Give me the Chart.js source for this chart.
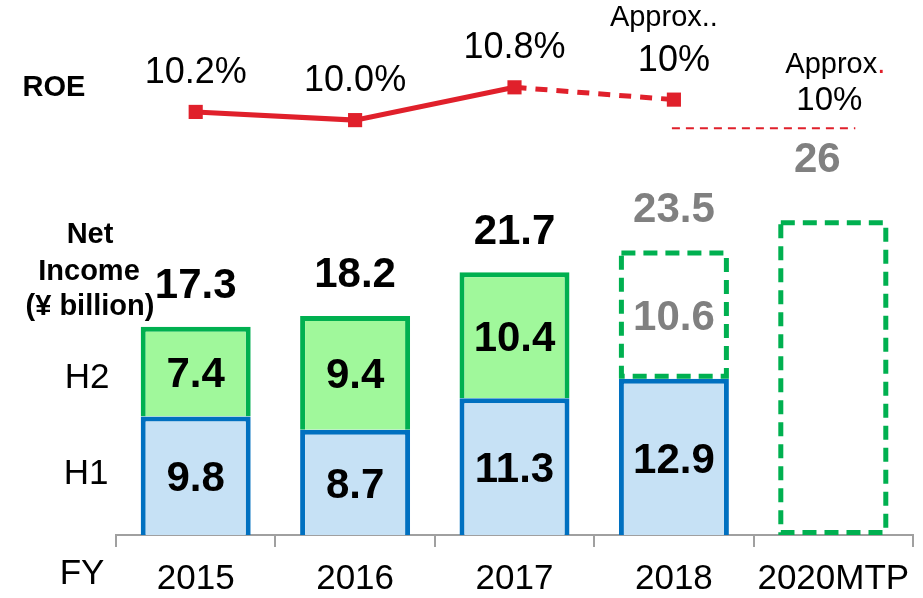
<!DOCTYPE html>
<html>
<head>
<meta charset="utf-8">
<script src="https://cdn.jsdelivr.net/npm/chart.js@4"></script>
<style>
  body { margin: 0; background: #fff; }
  canvas { display: block; }
</style>
</head>
<body>
<canvas id="chart" width="923" height="598"></canvas>
<script>
// data
const years = ["2015", "2016", "2017", "2018", "2020MTP"];
const h1 = [9.8, 8.7, 11.3, 12.9, null];
const h2 = [7.4, 9.4, 10.4, 10.6, null];
const totals = [17.3, 18.2, 21.7, 23.5, 26];
const mtpTarget = [null, null, null, null, 26];
const roe = [10.2, 10.0, 10.8, 10.5, null];
const roeLabels = ["10.2%", "10.0%", "10.8%", "10%", "10%"];
const roeTarget = 9.8;

const FONT = "'Liberation Sans', Arial, sans-serif";
const RED = "#E0202B";
const GREEN = "#00B050";
const GREY_TXT = "#808080";

// dashed outline for the forecast bars + all the text
const overlay = {
  id: "overlay",
  afterDatasetsDraw(chart) {
    const ctx = chart.ctx;
    const x = chart.scales.x;
    const yR = chart.scales.yROE;

    // dashed green boxes (2018 H2 forecast, 2020 MTP)
    ctx.save();
    ctx.strokeStyle = GREEN;
    ctx.lineWidth = 5;
    ctx.setLineDash([14, 8]);
    [[1, 3], [2, 4]].forEach(([ds, i]) => {
      const el = chart.getDatasetMeta(ds).data[i];
      if (!el) return;
      const w = el.width;
      ctx.strokeRect(el.x - w / 2 + 2.5, el.y + 2.5, w - 5, el.base - el.y - 5);
    });
    ctx.restore();

    // ROE target dashed line for 2020
    ctx.save();
    ctx.strokeStyle = RED;
    ctx.lineWidth = 2;
    ctx.setLineDash([8, 6]);
    const ty = yR.getPixelForValue(roeTarget);
    ctx.beginPath();
    ctx.moveTo(x.getPixelForValue(3) - 2, ty);
    ctx.lineTo(x.getPixelForValue(4) + 22, ty);
    ctx.stroke();
    ctx.restore();

    ctx.save();
    ctx.textAlign = "center";
    ctx.textBaseline = "middle";

    // segment values
    ctx.font = "bold 42px " + FONT;
    [0, 1].forEach(ds => {
      chart.getDatasetMeta(ds).data.forEach((el, i) => {
        const v = chart.data.datasets[ds].data[i];
        if (v == null) return;
        ctx.fillStyle = (ds === 1 && i === 3) ? GREY_TXT : "#000";
        ctx.fillText(v.toFixed(1), el.x, (el.y + el.base) / 2 + 4);
      });
    });

    // totals
    const top = chart.getDatasetMeta(1).data;
    totals.forEach((t, i) => {
      ctx.fillStyle = i >= 3 ? GREY_TXT : "#000";
      if (i < 4) {
        ctx.fillText(t.toFixed(1), top[i].x, top[i].y - 40);
      } else {
        const el = chart.getDatasetMeta(2).data[i];
        ctx.fillText(String(t), el.x - 16, el.y - 60);
      }
    });

    // ROE labels
    ctx.font = "36px " + FONT;
    ctx.fillStyle = "#000";
    const pts = chart.getDatasetMeta(3).data;
    roe.forEach((v, i) => {
      if (v == null) return;
      ctx.fillText(roeLabels[i], pts[i].x, pts[i].y - 39);
    });
    ctx.font = "29px " + FONT;
    ctx.fillText("Approx..", pts[3].x - 10, pts[3].y - 82);
    const mx = x.getPixelForValue(4);
    ctx.font = "33px " + FONT;
    ctx.fillText(roeLabels[4], mx - 4, ty - 27);
    ctx.font = "29px " + FONT;
    ctx.textAlign = "left";
    const aw = ctx.measureText("Approx").width;
    const dw = ctx.measureText(".").width;
    const ax = mx + 2 - (aw + dw) / 2;
    ctx.fillText("Approx", ax, ty - 63);
    ctx.fillStyle = RED;
    ctx.fillText(".", ax + aw, ty - 63);

    // side labels
    ctx.textAlign = "center";
    ctx.fillStyle = "#000";
    ctx.font = "bold 29px " + FONT;
    ctx.fillText("ROE", 54, 88);
    ctx.fillText("Net", 90, 235);
    ctx.fillText("Income", 89, 272);
    ctx.fillText("(¥ billion)", 90, 307);
    ctx.font = "35px " + FONT;
    ctx.fillText("H2", 87, 378);
    ctx.fillText("H1", 86, 474);
    ctx.fillText("FY", 82, 574);
    ctx.restore();
  }
};

new Chart(document.getElementById("chart"), {
  data: {
    labels: years,
    datasets: [
      {
        type: "bar", label: "H1", data: h1, stack: "ni", yAxisID: "y",
        backgroundColor: "#C6E1F5", borderColor: "#0070C0", borderWidth: 5,
        barPercentage: 0.69, categoryPercentage: 1, order: 2
      },
      {
        type: "bar", label: "H2", data: h2, stack: "ni", yAxisID: "y",
        backgroundColor: ["#A0F89B", "#A0F89B", "#A0F89B", "rgba(255,255,255,0)", "#fff"],
        borderColor: [GREEN, GREEN, GREEN, "rgba(0,0,0,0)", GREEN],
        borderWidth: [5, 5, 5, 0, 5],
        barPercentage: 0.69, categoryPercentage: 1, order: 2
      },
      {
        type: "bar", label: "MTP", data: mtpTarget, stack: "ni", yAxisID: "y",
        backgroundColor: "rgba(255,255,255,0)", borderWidth: 0,
        barPercentage: 0.69, categoryPercentage: 1, order: 2
      },
      {
        type: "line", label: "ROE", data: roe, yAxisID: "yROE",
        borderColor: RED, backgroundColor: RED, borderWidth: 5,
        pointStyle: "rect", pointRadius: 10, pointBorderWidth: 0,
        segment: { borderDash: c => c.p0DataIndex === 2 ? [12, 9] : undefined },
        order: 1
      }
    ]
  },
  options: {
    responsive: false,
    animation: false,
    events: [],
    layout: { autoPadding: false, padding: { left: 116, right: 10, top: 0, bottom: 0 } },
    plugins: { legend: { display: false }, tooltip: { enabled: false } },
    scales: {
      x: {
        stacked: true,
        offset: true,
        afterFit: s => { s.height = 63; },
        grid: { offset: true, drawOnChartArea: false, drawTicks: true, tickLength: 12, color: "#A0A0A0", lineWidth: 2 },
        border: { display: true, color: "#A0A0A0", width: 2 },
        ticks: { color: "#000", font: { family: FONT, size: 35 }, padding: 11, maxRotation: 0 }
      },
      y: { display: false, stacked: true, min: 0, max: 44.2 },
      yROE: { display: false, min: -0.12, max: 12.93 }
    }
  },
  plugins: [overlay]
});
</script>
</body>
</html>
